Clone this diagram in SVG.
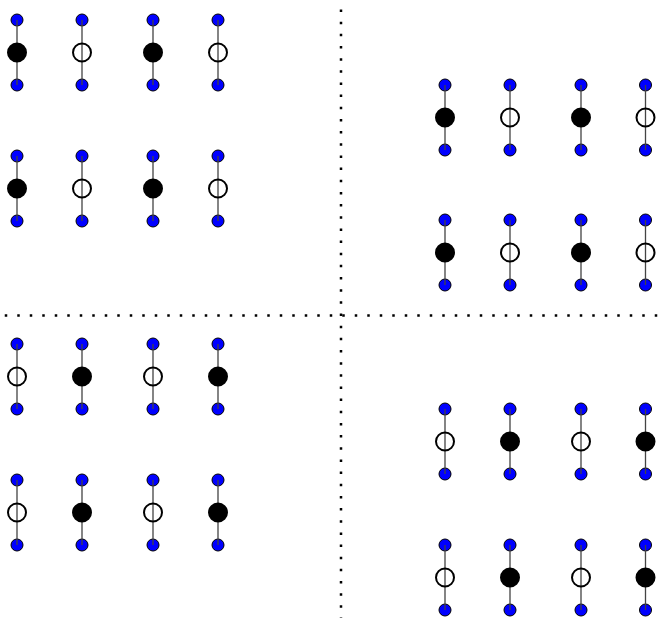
<svg xmlns="http://www.w3.org/2000/svg" xmlns:xlink="http://www.w3.org/1999/xlink" width="658" height="618" viewBox="0 0 658 618">
<style>
.blue{fill:#0000ff;stroke:#000;stroke-width:1}
.full{fill:#000;stroke:#000;stroke-width:2}
.open{fill:none;stroke:#000;stroke-width:2}
.edge{stroke:#444;stroke-width:1.3;fill:none}
.sep{stroke:#000;stroke-width:2.5;fill:none}
</style>
<defs>
<circle id="B" cx="0" cy="0" r="6" class="blue"/>
<circle id="F" cx="0" cy="0" r="9" class="full"/>
<circle id="O" cx="0" cy="0" r="9" class="open"/>
</defs>
<rect width="658" height="618" fill="#fff"/>
<g id="separators">
<line class="sep" x1="4.75" y1="315.5" x2="658" y2="315.5" stroke-dasharray="2.5 10"/>
<line class="sep" x1="341" y1="9.5" x2="341" y2="618" stroke-dasharray="2.5 9.66"/>
</g>
<g id="blue-nodes">
<g id="tl-a1-t"><use href="#B" x="17" y="20"/></g><g id="tl-a1-b"><use href="#B" x="17" y="85"/></g>
<g id="tl-a2-t"><use href="#B" x="82" y="20"/></g><g id="tl-a2-b"><use href="#B" x="82" y="85"/></g>
<g id="tl-a3-t"><use href="#B" x="153" y="20"/></g><g id="tl-a3-b"><use href="#B" x="153" y="85"/></g>
<g id="tl-a4-t"><use href="#B" x="218" y="20"/></g><g id="tl-a4-b"><use href="#B" x="218" y="85"/></g>
<g id="tl-b1-t"><use href="#B" x="17" y="156"/></g><g id="tl-b1-b"><use href="#B" x="17" y="221"/></g>
<g id="tl-b2-t"><use href="#B" x="82" y="156"/></g><g id="tl-b2-b"><use href="#B" x="82" y="221"/></g>
<g id="tl-b3-t"><use href="#B" x="153" y="156"/></g><g id="tl-b3-b"><use href="#B" x="153" y="221"/></g>
<g id="tl-b4-t"><use href="#B" x="218" y="156"/></g><g id="tl-b4-b"><use href="#B" x="218" y="221"/></g>
<g id="tr-a1-t"><use href="#B" x="445" y="85"/></g><g id="tr-a1-b"><use href="#B" x="445" y="150"/></g>
<g id="tr-a2-t"><use href="#B" x="510" y="85"/></g><g id="tr-a2-b"><use href="#B" x="510" y="150"/></g>
<g id="tr-a3-t"><use href="#B" x="581" y="85"/></g><g id="tr-a3-b"><use href="#B" x="581" y="150"/></g>
<g id="tr-a4-t"><use href="#B" x="645.5" y="85"/></g><g id="tr-a4-b"><use href="#B" x="645.5" y="150"/></g>
<g id="tr-b1-t"><use href="#B" x="445" y="220"/></g><g id="tr-b1-b"><use href="#B" x="445" y="285"/></g>
<g id="tr-b2-t"><use href="#B" x="510" y="220"/></g><g id="tr-b2-b"><use href="#B" x="510" y="285"/></g>
<g id="tr-b3-t"><use href="#B" x="581" y="220"/></g><g id="tr-b3-b"><use href="#B" x="581" y="285"/></g>
<g id="tr-b4-t"><use href="#B" x="645.5" y="220"/></g><g id="tr-b4-b"><use href="#B" x="645.5" y="285"/></g>
<g id="bl-a1-t"><use href="#B" x="17" y="344"/></g><g id="bl-a1-b"><use href="#B" x="17" y="409"/></g>
<g id="bl-a2-t"><use href="#B" x="82" y="344"/></g><g id="bl-a2-b"><use href="#B" x="82" y="409"/></g>
<g id="bl-a3-t"><use href="#B" x="153" y="344"/></g><g id="bl-a3-b"><use href="#B" x="153" y="409"/></g>
<g id="bl-a4-t"><use href="#B" x="218" y="344"/></g><g id="bl-a4-b"><use href="#B" x="218" y="409"/></g>
<g id="bl-b1-t"><use href="#B" x="17" y="480"/></g><g id="bl-b1-b"><use href="#B" x="17" y="545"/></g>
<g id="bl-b2-t"><use href="#B" x="82" y="480"/></g><g id="bl-b2-b"><use href="#B" x="82" y="545"/></g>
<g id="bl-b3-t"><use href="#B" x="153" y="480"/></g><g id="bl-b3-b"><use href="#B" x="153" y="545"/></g>
<g id="bl-b4-t"><use href="#B" x="218" y="480"/></g><g id="bl-b4-b"><use href="#B" x="218" y="545"/></g>
<g id="br-a1-t"><use href="#B" x="445" y="409"/></g><g id="br-a1-b"><use href="#B" x="445" y="474"/></g>
<g id="br-a2-t"><use href="#B" x="510" y="409"/></g><g id="br-a2-b"><use href="#B" x="510" y="474"/></g>
<g id="br-a3-t"><use href="#B" x="581" y="409"/></g><g id="br-a3-b"><use href="#B" x="581" y="474"/></g>
<g id="br-a4-t"><use href="#B" x="645.5" y="409"/></g><g id="br-a4-b"><use href="#B" x="645.5" y="474"/></g>
<g id="br-b1-t"><use href="#B" x="445" y="545"/></g><g id="br-b1-b"><use href="#B" x="445" y="610"/></g>
<g id="br-b2-t"><use href="#B" x="510" y="545"/></g><g id="br-b2-b"><use href="#B" x="510" y="610"/></g>
<g id="br-b3-t"><use href="#B" x="581" y="545"/></g><g id="br-b3-b"><use href="#B" x="581" y="610"/></g>
<g id="br-b4-t"><use href="#B" x="645.5" y="545"/></g><g id="br-b4-b"><use href="#B" x="645.5" y="610"/></g>
</g>
<g id="connectors" class="edge">
<path d="M17 20V85M82 20V85M153 20V85M218 20V85M17 156V221M82 156V221M153 156V221M218 156V221"/>
<path d="M445 85V150M510 85V150M581 85V150M645.5 85V150M445 220V285M510 220V285M581 220V285M645.5 220V285"/>
<path d="M17 344V409M82 344V409M153 344V409M218 344V409M17 480V545M82 480V545M153 480V545M218 480V545"/>
<path d="M445 409V474M510 409V474M581 409V474M645.5 409V474M445 545V610M510 545V610M581 545V610M645.5 545V610"/>
</g>
<g id="big-nodes">
<g id="tl-a1-m"><use href="#F" x="17" y="52.5"/></g>
<g id="tl-a2-m"><use href="#O" x="82" y="52.5"/></g>
<g id="tl-a3-m"><use href="#F" x="153" y="52.5"/></g>
<g id="tl-a4-m"><use href="#O" x="218" y="52.5"/></g>
<g id="tl-b1-m"><use href="#F" x="17" y="188.5"/></g>
<g id="tl-b2-m"><use href="#O" x="82" y="188.5"/></g>
<g id="tl-b3-m"><use href="#F" x="153" y="188.5"/></g>
<g id="tl-b4-m"><use href="#O" x="218" y="188.5"/></g>
<g id="tr-a1-m"><use href="#F" x="445" y="117.5"/></g>
<g id="tr-a2-m"><use href="#O" x="510" y="117.5"/></g>
<g id="tr-a3-m"><use href="#F" x="581" y="117.5"/></g>
<g id="tr-a4-m"><use href="#O" x="645.5" y="117.5"/></g>
<g id="tr-b1-m"><use href="#F" x="445" y="252.5"/></g>
<g id="tr-b2-m"><use href="#O" x="510" y="252.5"/></g>
<g id="tr-b3-m"><use href="#F" x="581" y="252.5"/></g>
<g id="tr-b4-m"><use href="#O" x="645.5" y="252.5"/></g>
<g id="bl-a1-m"><use href="#O" x="17" y="376.5"/></g>
<g id="bl-a2-m"><use href="#F" x="82" y="376.5"/></g>
<g id="bl-a3-m"><use href="#O" x="153" y="376.5"/></g>
<g id="bl-a4-m"><use href="#F" x="218" y="376.5"/></g>
<g id="bl-b1-m"><use href="#O" x="17" y="512.5"/></g>
<g id="bl-b2-m"><use href="#F" x="82" y="512.5"/></g>
<g id="bl-b3-m"><use href="#O" x="153" y="512.5"/></g>
<g id="bl-b4-m"><use href="#F" x="218" y="512.5"/></g>
<g id="br-a1-m"><use href="#O" x="445" y="441.5"/></g>
<g id="br-a2-m"><use href="#F" x="510" y="441.5"/></g>
<g id="br-a3-m"><use href="#O" x="581" y="441.5"/></g>
<g id="br-a4-m"><use href="#F" x="645.5" y="441.5"/></g>
<g id="br-b1-m"><use href="#O" x="445" y="577.5"/></g>
<g id="br-b2-m"><use href="#F" x="510" y="577.5"/></g>
<g id="br-b3-m"><use href="#O" x="581" y="577.5"/></g>
<g id="br-b4-m"><use href="#F" x="645.5" y="577.5"/></g>
</g>
</svg>
